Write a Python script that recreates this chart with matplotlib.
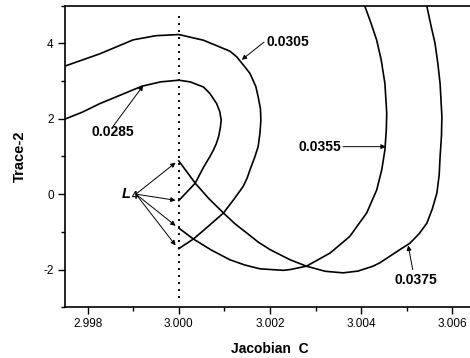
import matplotlib
matplotlib.use("Agg")
import matplotlib.pyplot as plt
from matplotlib.ticker import MultipleLocator, FormatStrFormatter
from matplotlib.transforms import offset_copy

plt.rcParams['font.family'] = ['Liberation Sans', 'DejaVu Sans']

# ---- data (Jacobian C, Trace-2) ----
c_0285 = [2.9974, 2.99788, 2.99827, 2.99871, 2.99919, 2.99960, 3.0000, 3.00025, 3.00054,
          3.00068, 3.00083, 3.00090, 3.00093, 3.00091, 3.00087, 3.00082, 3.00076, 3.00068,
          3.00055, 3.00036, 3.00018, 3.0000]
t_0285 = [1.94, 2.17, 2.40, 2.62, 2.86, 2.975, 3.02, 2.975, 2.84,
          2.67, 2.40, 2.18, 1.96, 1.75, 1.51, 1.33, 1.17, 0.99,
          0.73, 0.29, 0.06, -0.17]

c_0305 = [2.9974, 2.99827, 2.99900, 2.99950, 3.0000, 3.00054, 3.00090, 3.00112, 3.00127,
          3.00145, 3.00156, 3.00169, 3.00174, 3.00179, 3.00180, 3.00178, 3.00174, 3.00166,
          3.00156, 3.00150, 3.00141, 3.00120, 3.00098, 3.00064, 3.00032, 3.0000]
t_0305 = [3.35, 3.72, 4.09, 4.20, 4.23, 4.08, 3.90, 3.79, 3.64,
          3.37, 3.20, 2.85, 2.58, 2.27, 1.96, 1.62, 1.26, 0.96,
          0.64, 0.43, 0.20, -0.15, -0.50, -0.86, -1.19, -1.445]

c_0355 = [3.0000, 3.00032, 3.00071, 3.00112, 3.00145, 3.00178, 3.00229, 3.00244, 3.00280,
          3.00332, 3.00375, 3.00412, 3.00434, 3.00445, 3.00452, 3.00455, 3.00456, 3.00452,
          3.00444, 3.00434, 3.00421, 3.00408, 3.00404]
t_0355 = [-0.90, -1.19, -1.48, -1.74, -1.88, -1.98, -2.02, -2.00, -1.91,
          -1.56, -1.12, -0.50, 0.11, 0.64, 1.17, 1.70, 2.15, 2.93,
          3.55, 4.08, 4.55, 4.98, 5.13]

c_0375 = [3.0000, 3.00036, 3.00066, 3.00098, 3.00123, 3.00149, 3.00174, 3.00200, 3.00244,
          3.00280, 3.00321, 3.00360, 3.00393, 3.00426, 3.00441, 3.00485, 3.00507, 3.00527,
          3.00544, 3.00556, 3.00566, 3.00571, 3.00573, 3.00576, 3.00577, 3.00573, 3.00568,
          3.00562, 3.00553, 3.00544, 3.00538]
t_0375 = [0.88, 0.29, -0.12, -0.50, -0.785, -1.03, -1.27, -1.47, -1.74,
          -1.91, -2.045, -2.087, -2.04, -1.91, -1.82, -1.47, -1.30, -1.05,
          -0.77, -0.39, 0.03, 0.51, 0.99, 1.54, 2.05, 2.93, 3.47,
          3.99, 4.47, 4.98, 5.15]

curve_labels = ["0.0285", "0.0305", "0.0355", "0.0375"]
L4_C = 3.0
L4_heads_T = [0.835, -0.165, -0.84, -1.36]

x_ticks = [2.998, 3.000, 3.002, 3.004, 3.006]
y_ticks = [-2, 0, 2, 4]

# ---- figure ----
fig = plt.figure(figsize=(4.7, 3.58), dpi=100)
ax = fig.add_axes([64.8 / 470, (358 - 307.3) / 358, 410.4 / 470, 301.8 / 358])

lw = 1.2
for c, t in [(c_0285, t_0285), (c_0305, t_0305), (c_0355, t_0355), (c_0375, t_0375)]:
    ax.plot(c, t, color='black', lw=lw, solid_joinstyle='round')

ax.plot([L4_C, L4_C], [-2.75, 4.8], color='black', lw=1.4, linestyle=(0, (1, 2.6)))

ax.set_xlim(2.9975, 3.0065)
ax.set_ylim(-3, 5)
ax.set_xticks(x_ticks)
ax.set_yticks(y_ticks)
ax.xaxis.set_major_formatter(FormatStrFormatter('%.3f'))
ax.yaxis.set_major_formatter(FormatStrFormatter('%d'))
ax.xaxis.set_minor_locator(MultipleLocator(0.001))
ax.yaxis.set_minor_locator(MultipleLocator(1))
ax.tick_params(which='major', direction='out', length=5, width=1, labelsize=8.5, pad=3)
ax.tick_params(which='minor', direction='out', length=3, width=1)
ax.tick_params(top=False, right=False)
for s in ax.spines.values():
    s.set_linewidth(1.2)

ax.set_xlabel("Jacobian  C", fontsize=10, fontweight='bold', labelpad=8)
ax.set_ylabel("Trace-2", fontsize=10.5, fontweight='bold', labelpad=12)

arrow = dict(arrowstyle='-|>', lw=0.7, color='black', mutation_scale=7, shrinkA=0, shrinkB=0)
tfont = dict(fontsize=10, fontweight='bold')

# 0.0285
ax.annotate('', xy=(2.99922, 2.879), xytext=(2.99856, 1.80), arrowprops=arrow)
ax.text(2.99809, 1.654, curve_labels[0], ha='left', va='center', **tfont)
# 0.0305
ax.annotate('', xy=(3.00138, 3.56), xytext=(3.00187, 4.03), arrowprops=arrow)
ax.text(3.00193, 4.02, curve_labels[1], ha='left', va='center', **tfont)
# 0.0355
ax.annotate('', xy=(3.00454, 1.258), xytext=(3.00360, 1.258), arrowprops=arrow)
ax.text(3.00357, 1.258, curve_labels[2], ha='right', va='center', **tfont)
# 0.0375
ax.annotate('', xy=(3.00503, -1.36), xytext=(3.00513, -2.0), arrowprops=arrow)
ax.text(3.00519, -2.264, curve_labels[3], ha='center', va='center', **tfont)

# L4
ax.text(2.99875, 0.0, 'L', ha='left', va='center', fontsize=10.5,
        fontweight='bold', fontstyle='italic', zorder=5)
sub_tr = offset_copy(ax.transData, fig=fig, x=7.2, y=-1.5, units='points')
ax.text(2.99875, 0.0, '4', transform=sub_tr, ha='left', va='center', fontsize=7.5,
        fontweight='bold', zorder=5)
for ty in L4_heads_T:
    ax.annotate('', xy=(2.99993, ty), xytext=(2.99906, 0.0), arrowprops=arrow)

fig.savefig('out.png', dpi=100)
